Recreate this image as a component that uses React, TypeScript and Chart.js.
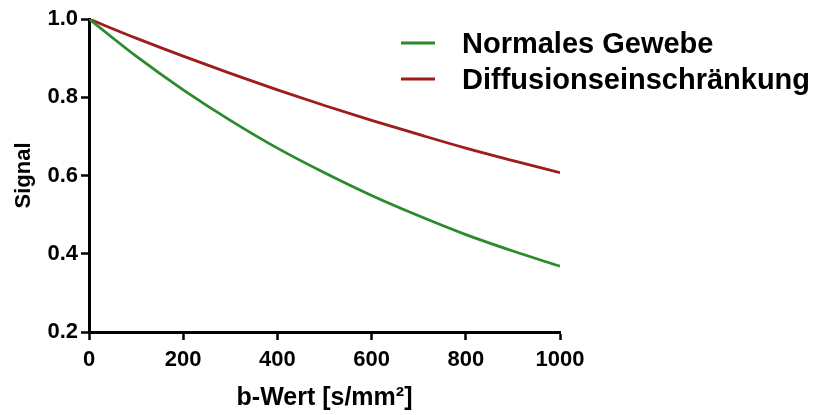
import React, { useEffect, useRef } from "react";
import { Chart, registerables } from "chart.js";

Chart.register(...registerables);

const bValues = [0, 100, 200, 300, 400, 500, 600, 700, 800, 900, 1000];
const normalSignal = [1.0, 0.905, 0.819, 0.741, 0.670, 0.607, 0.549, 0.497, 0.449, 0.407, 0.368];
const restrictedSignal = [1.0, 0.951, 0.905, 0.861, 0.819, 0.779, 0.741, 0.705, 0.670, 0.638, 0.607];
const seriesNames = ["Normales Gewebe", "Diffusionseinschränkung"];
const seriesColors = ["#2b8a2b", "#9e1c1c"];
const xTicks = [0, 200, 400, 600, 800, 1000];
const yTicks = [0.2, 0.4, 0.6, 0.8, 1.0];

const FONT = "'Liberation Sans', Arial, sans-serif";

const legendPlugin = {
  id: "customLegend",
  afterDraw(chart: any) {
    const ctx = chart.ctx;
    ctx.save();
    const rows = [43, 79];
    seriesNames.forEach((name, i) => {
      const y = rows[i];
      ctx.strokeStyle = seriesColors[i];
      ctx.lineWidth = 3;
      ctx.beginPath();
      ctx.moveTo(401, y);
      ctx.lineTo(435, y);
      ctx.stroke();
      ctx.fillStyle = "#000";
      ctx.font = `bold 29px ${FONT}`;
      ctx.textBaseline = "middle";
      ctx.textAlign = "left";
      ctx.fillText(name, 462, y + 2);
    });
    ctx.restore();
  },
};

export default function App() {
  const ref = useRef<HTMLCanvasElement | null>(null);
  useEffect(() => {
    if (!ref.current) return;
    const mk = (vals: number[]) => bValues.map((x, i) => ({ x, y: vals[i] }));
    const chart = new Chart(ref.current, {
      type: "line",
      data: {
        datasets: [
          {
            label: seriesNames[0],
            data: mk(normalSignal),
            borderColor: seriesColors[0],
            borderWidth: 2.8,
            pointRadius: 0,
            cubicInterpolationMode: "monotone",
          },
          {
            label: seriesNames[1],
            data: mk(restrictedSignal),
            borderColor: seriesColors[1],
            borderWidth: 2.8,
            pointRadius: 0,
            cubicInterpolationMode: "monotone",
          },
        ],
      },
      options: {
        animation: false,
        responsive: false,
        layout: { padding: { left: 11, right: 255, top: 19, bottom: 0 } },
        plugins: { legend: { display: false }, tooltip: { enabled: false } },
        scales: {
          x: {
            type: "linear",
            min: 0,
            max: 1000,
            afterBuildTicks: (s: any) => {
              s.ticks = xTicks.map((v) => ({ value: v }));
            },
            afterFit: (s: any) => {
              s.height = 83;
            },
            grid: { drawOnChartArea: false, drawTicks: true, tickLength: 8, tickWidth: 2.5, tickColor: "#000" },
            border: { color: "#000", width: 3 },
            ticks: {
              color: "#000",
              padding: 7,
              font: { family: FONT, size: 22, weight: "bold" },
              maxRotation: 0,
              callback: (v: any) => String(v),
            },
            title: {
              display: true,
              text: "b-Wert [s/mm²]",
              color: "#000",
              font: { family: FONT, size: 25, weight: "bold" },
              padding: { top: 0, bottom: 2 },
            },
          },
          y: {
            type: "linear",
            min: 0.2,
            max: 1.0,
            afterBuildTicks: (s: any) => {
              s.ticks = yTicks.map((v) => ({ value: v }));
            },
            afterFit: (s: any) => {
              s.width = 78;
            },
            grid: { drawOnChartArea: false, drawTicks: true, tickLength: 8, tickWidth: 2.5, tickColor: "#000" },
            border: { color: "#000", width: 3 },
            ticks: {
              color: "#000",
              padding: 3,
              font: { family: FONT, size: 22, weight: "bold" },
              callback: (v: any) => Number(v).toFixed(1),
            },
            title: {
              display: true,
              text: "Signal",
              color: "#000",
              font: { family: FONT, size: 22, weight: "bold" },
              padding: { top: 0, bottom: 0 },
            },
          },
        },
      },
      plugins: [legendPlugin],
    });
    return () => chart.destroy();
  }, []);
  return (
    <div style={{ position: "fixed", left: 0, top: 0, width: 815, height: 415, background: "#fff" }}>
      <canvas ref={ref} width={815} height={415} style={{ width: 815, height: 415 }} />
    </div>
  );
}
